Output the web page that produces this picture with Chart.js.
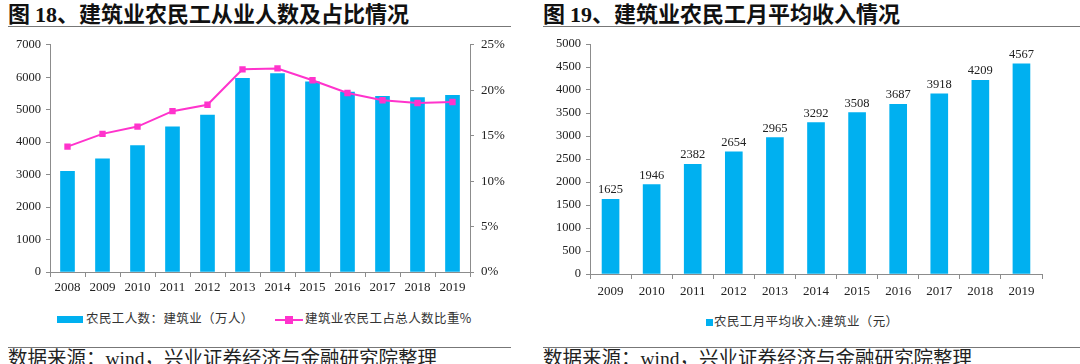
<!DOCTYPE html>
<html>
<head>
<meta charset="utf-8">
<script src="https://cdn.jsdelivr.net/npm/chart.js"></script>
<style>
  body { margin: 0; width: 1080px; height: 364px; background: #fff; position: relative; overflow: hidden;
         font-family: "Noto Sans CJK SC", sans-serif; color: #222; }
  .title { position: absolute; top: 0; font-size: 22px; font-weight: bold; line-height: 24px; white-space: nowrap; color: #111; }
  .title .num { font-family: "Liberation Serif", serif; }
  .rule { position: absolute; height: 0; border-top: 1.5px solid #777; }
  .src { position: absolute; top: 344px; font-size: 19.5px; line-height: 26px; white-space: nowrap; color: #222; }
  .src .num { font-family: "Liberation Serif", serif; }
  .box { position: absolute; top: 30px; width: 540px; height: 270px; }
  .leg { position: absolute; font-size: 12.5px; line-height: 16px; white-space: nowrap; color: #333; letter-spacing: 0.4px; }
  .sw { display: inline-block; vertical-align: middle; }
</style>
</head>
<body>

<div class="title" style="left:8px">图 <span class="num">18</span>、建筑业农民工从业人数及占比情况</div>
<div class="rule" style="left:8px;width:503px;top:26px"></div>
<div class="title" style="left:543px">图 <span class="num">19</span>、建筑业农民工月平均收入情况</div>
<div class="rule" style="left:543px;width:537px;top:26px"></div>

<div class="box" style="left:0"><canvas id="chartLeft"></canvas></div>
<div class="box" style="left:540px"><canvas id="chartRight"></canvas></div>

<div class="leg" style="left:57px;top:310px">
  <span class="sw" style="width:26px;height:7px;background:#00B0F0;margin-right:3px"></span>农民工人数：建筑业（万人）
</div>
<div class="leg" style="left:275px;top:310px">
  <span class="sw" style="position:relative;width:28px;height:8px;margin-right:2px">
    <span style="position:absolute;left:0;top:3px;width:28px;height:2px;background:#FF33CC"></span>
    <span style="position:absolute;left:10px;top:0;width:8px;height:8px;background:#FF33CC"></span>
  </span>建筑业农民工占总人数比重%
</div>
<div class="leg" style="left:706px;top:313px">
  <span class="sw" style="width:7px;height:7px;background:#00B0F0;margin-right:1px"></span>农民工月平均收入:建筑业（元）
</div>

<div class="rule" style="left:8px;width:503px;top:347px"></div>
<div class="src" style="left:8px">数据来源：<span class="num">wind</span>，兴业证券经济与金融研究院整理</div>
<div class="rule" style="left:543px;width:537px;top:347px"></div>
<div class="src" style="left:543px">数据来源：<span class="num">wind</span>，兴业证券经济与金融研究院整理</div>

<script>
const years1 = ['2008', '2009', '2010', '2011', '2012', '2013', '2014', '2015', '2016', '2017', '2018', '2019'];
const workers = [3100, 3485, 3897, 4474, 4835, 5969, 6113, 5856, 5546, 5412, 5371, 5443];
const shares = [13.8, 15.2, 16.0, 17.7, 18.4, 22.3, 22.4, 21.1, 19.7, 18.9, 18.6, 18.7];

const years2 = ['2009', '2010', '2011', '2012', '2013', '2014', '2015', '2016', '2017', '2018', '2019'];
const income = [1625, 1946, 2382, 2654, 2965, 3292, 3508, 3687, 3918, 4209, 4567];

const blue = '#00B0F0';
const pink = '#FF33CC';
const axisGrey = '#8c8c8c';
const serif = 'Liberation Serif';

Chart.defaults.animation = false;
Chart.defaults.color = '#222';

function axisGrid(len) {
    return { drawOnChartArea: false, drawTicks: true, tickLength: len, color: axisGrey };
}

// 图18：柱 + 折线（双轴）
new Chart(document.getElementById('chartLeft'), {
    type: 'bar',
    data: {
        labels: years1,
        datasets: [
            {
                type: 'line',
                label: '建筑业农民工占总人数比重%',
                data: shares,
                yAxisID: 'y2',
                borderColor: pink,
                backgroundColor: pink,
                borderWidth: 2,
                pointStyle: 'rect',
                pointRadius: 4.5,
                pointBorderWidth: 0,
                tension: 0,
                order: 0
            },
            {
                label: '农民工人数：建筑业（万人）',
                data: workers,
                yAxisID: 'y',
                backgroundColor: blue,
                barThickness: 14,
                order: 1
            }
        ]
    },
    options: {
        responsive: true,
        maintainAspectRatio: false,
        layout: { padding: { top: 14, bottom: 0, left: 0, right: 0 } },
        plugins: { legend: { display: false }, tooltip: { enabled: false } },
        scales: {
            x: {
                grid: { ...axisGrid(5), offset: true },
                border: { color: axisGrey },
                ticks: { font: { family: serif, size: 13 }, padding: 3, maxRotation: 0 },
                afterFit: s => { s.height = 28; }
            },
            y: {
                position: 'left',
                min: 0, max: 7000,
                ticks: { stepSize: 1000, font: { family: serif, size: 12.5 }, padding: 5, callback: v => String(v) },
                grid: axisGrid(4),
                border: { color: axisGrey },
                afterFit: s => { s.width = 50; }
            },
            y2: {
                position: 'right',
                min: 0, max: 25,
                ticks: { stepSize: 5, font: { family: serif, size: 13 }, padding: 7, callback: v => v + '%' },
                grid: axisGrid(4),
                border: { color: axisGrey },
                afterFit: s => { s.width = 70; }
            }
        }
    }
});

// 柱顶数值
const valueLabels = {
    id: 'valueLabels',
    afterDatasetsDraw(chart) {
        const ctx = chart.ctx;
        const meta = chart.getDatasetMeta(0);
        ctx.save();
        ctx.font = '12.5px "' + serif + '"';
        ctx.fillStyle = '#222';
        ctx.textAlign = 'center';
        ctx.textBaseline = 'bottom';
        meta.data.forEach((bar, i) => ctx.fillText(income[i], bar.x, bar.y - 3));
        ctx.restore();
    }
};

// 图19：月平均收入
new Chart(document.getElementById('chartRight'), {
    type: 'bar',
    data: {
        labels: years2,
        datasets: [{
            label: '农民工月平均收入:建筑业（元）',
            data: income,
            backgroundColor: blue,
            barThickness: 17
        }]
    },
    options: {
        responsive: true,
        maintainAspectRatio: false,
        layout: { padding: { top: 14, bottom: 0, left: 0, right: 38 } },
        plugins: { legend: { display: false }, tooltip: { enabled: false } },
        scales: {
            x: {
                grid: { ...axisGrid(5), offset: true },
                border: { color: axisGrey },
                ticks: { font: { family: serif, size: 13 }, padding: 5, maxRotation: 0 },
                afterFit: s => { s.height = 26; }
            },
            y: {
                min: 0, max: 5000,
                ticks: { stepSize: 500, font: { family: serif, size: 12.5 }, padding: 5, callback: v => String(v) },
                grid: axisGrid(4),
                border: { color: axisGrey },
                afterFit: s => { s.width = 50; }
            }
        }
    },
    plugins: [valueLabels]
});
</script>
</body>
</html>
